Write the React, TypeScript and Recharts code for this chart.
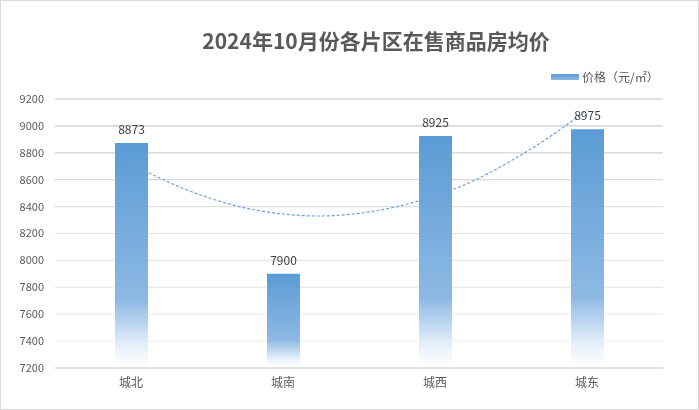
import React from 'react';
import { ComposedChart, Bar, Line, XAxis, YAxis, CartesianGrid, LabelList } from 'recharts';

const categories = ['城北', '城南', '城西', '城东'];
const prices = [8873, 7900, 8925, 8975];
const yTicks = [7200, 7400, 7600, 7800, 8000, 8200, 8400, 8600, 8800, 9000, 9200];
const trendPos = [0, 0.25, 0.5, 0.75, 1, 1.25, 1.5, 1.75, 2, 2.25, 2.5, 2.75, 3];
const trendValues = [8720, 8580, 8470, 8390, 8345, 8330, 8350, 8400, 8480, 8590, 8740, 8915, 9120];

const barData = categories.map((c, i) => ({ name: c, price: prices[i] }));
const trendData = trendPos.map((p, i) => ({ pos: p, trend: trendValues[i] }));

const FONT = '"Noto Sans CJK SC", "Noto Sans", sans-serif';

export default function App() {
  return (
    <div style={{ position: 'fixed', left: 0, top: 0, width: 699, height: 410, background: '#fff', border: '1px solid #d9d9d9', boxSizing: 'border-box' }}>
      <div style={{ position: 'absolute', left: 0, top: 0, width: 699, height: 410 }}>
        <div style={{ position: 'absolute', left: 0, width: 750, top: 24, textAlign: 'center', fontFamily: FONT, fontWeight: 700, fontSize: 21, color: '#595959', lineHeight: '30px' }}>
          2024年10月份各片区在售商品房均价
        </div>
        <div style={{ position: 'absolute', left: 550, top: 67, display: 'flex', alignItems: 'center', fontFamily: FONT, fontSize: 12, color: '#595959', lineHeight: '18px', whiteSpace: 'nowrap' }}>
          <span style={{ display: 'inline-block', width: 28, height: 6, background: 'linear-gradient(#5B9BD5, #8DB9E4)', marginRight: 3 }} />
          <span>价格（元/㎡）</span>
        </div>
        <ComposedChart
          width={699}
          height={410}
          data={barData}
          margin={{ top: 99, right: 35, bottom: 12, left: 0 }}
          style={{ position: 'absolute', left: -2, top: -1 }}
        >
          <defs>
            <linearGradient id="barGrad" x1="0" y1="0" x2="0" y2="1">
              <stop offset="0%" stopColor="#5B9BD5" />
              <stop offset="70%" stopColor="#8DB9E4" />
              <stop offset="90%" stopColor="#E6F0FA" />
              <stop offset="100%" stopColor="#FFFFFF" />
            </linearGradient>
            <linearGradient id="gridGrad" gradientUnits="userSpaceOnUse" x1="0" y1="99" x2="0" y2="368">
              <stop offset="0%" stopColor="#c4c4c4" />
              <stop offset="35%" stopColor="#dedede" />
              <stop offset="100%" stopColor="#f2f2f2" />
            </linearGradient>
          </defs>
          <CartesianGrid vertical={false} stroke="url(#gridGrad)" strokeWidth={1.2} />
          <XAxis
            dataKey="name"
            xAxisId="cat"
            axisLine={{ stroke: '#d9d9d9', strokeWidth: 1.5 }}
            tickLine={false}
            tickMargin={4}
            height={30}
            tick={{ fontFamily: FONT, fontSize: 12, fill: '#595959' }}
          />
          <XAxis
            type="number"
            dataKey="pos"
            xAxisId="trend"
            domain={[-0.5, 3.5]}
            hide
            allowDataOverflow
          />
          <YAxis
            domain={[7200, 9200]}
            ticks={yTicks}
            width={56}
            axisLine={false}
            tickLine={false}
            tickMargin={5}
            interval={0}
            allowDataOverflow
            tick={{ fontFamily: FONT, fontSize: 11, fill: '#595959' }}
          />
          <Line
            data={trendData}
            xAxisId="trend"
            dataKey="trend"
            type="natural"
            stroke="#6FA3D8"
            strokeWidth={1.2}
            strokeDasharray="3 2"
            dot={false}
            activeDot={false}
            legendType="none"
            isAnimationActive={false}
          />
          <Bar
            dataKey="price"
            xAxisId="cat"
            barSize={33}
            fill="url(#barGrad)"
            isAnimationActive={false}
          >
            <LabelList
              dataKey="price"
              position="top"
              offset={9}
              style={{ fontFamily: FONT, fontSize: 12, fill: '#404040' }}
            />
          </Bar>
        </ComposedChart>
      </div>
    </div>
  );
}
